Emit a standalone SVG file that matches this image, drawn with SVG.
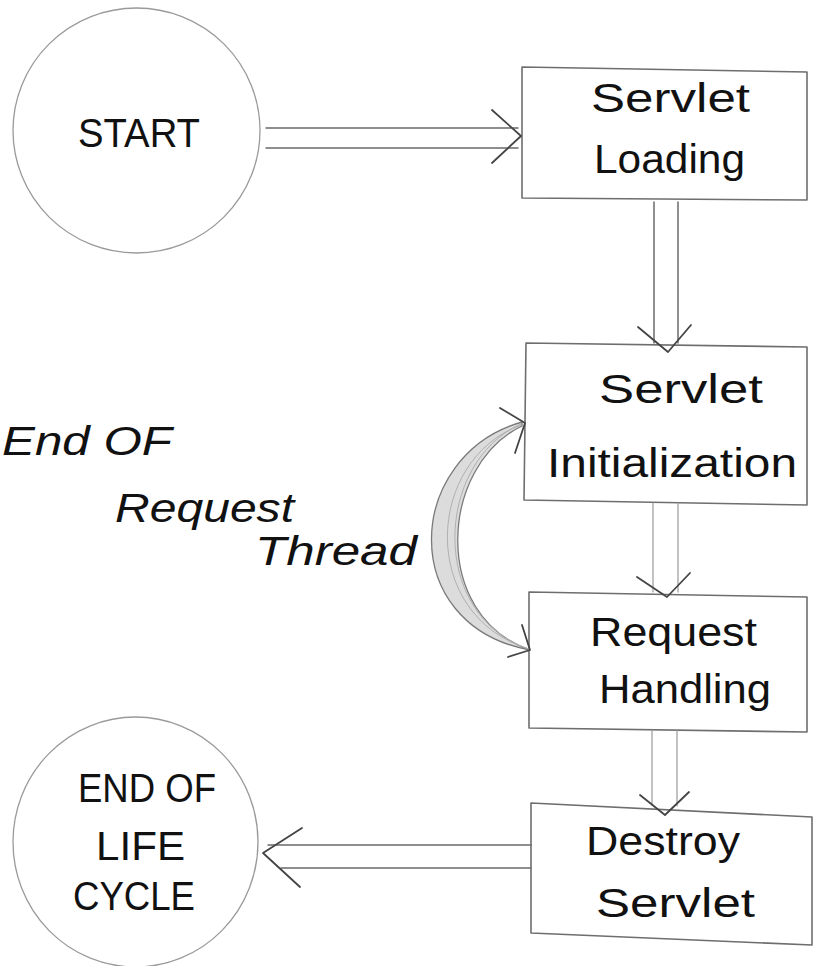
<svg xmlns="http://www.w3.org/2000/svg" width="816" height="966" viewBox="0 0 816 966">
  <defs>
    <style>
      .bg { fill: #ffffff; }
      .circle { fill: none; stroke: #9a9a9a; stroke-width: 1.3; }
      .box { fill: none; stroke: #6e6e6e; stroke-width: 1.6; stroke-linejoin: round; }
      .line { fill: none; stroke: #6a6a6a; stroke-width: 1.5; stroke-linecap: round; }
      .faint { stroke: #999999; stroke-width: 1.2; }
      .head { fill: none; stroke: #444444; stroke-width: 1.8; stroke-linecap: round; stroke-linejoin: round; }
      .band { fill: #dcdcdc; stroke: #7a7a7a; stroke-width: 1.3; }
      .hatch { fill: none; stroke: #b0b0b0; stroke-width: 1; }
      .t { font-family: "Liberation Sans", "DejaVu Sans", sans-serif; fill: #111111; font-size: 40px; }
      .it { font-style: italic; }
    </style>
  </defs>
  <rect class="bg" x="0" y="0" width="816" height="966"/>

  <g id="start">
    <ellipse class="circle" cx="136.5" cy="130.5" rx="123.5" ry="122.5"/>
    <text class="t" x="78" y="147" textLength="122" lengthAdjust="spacingAndGlyphs">START</text>
  </g>

  <g id="servlet-loading">
    <path class="box" d="M522 67 L807 72 L807 200 L522 198 Z"/>
    <text class="t" x="591" y="112" textLength="159" lengthAdjust="spacingAndGlyphs">Servlet</text>
    <text class="t" x="594" y="173" textLength="151" lengthAdjust="spacingAndGlyphs">Loading</text>
  </g>

  <g id="servlet-initialization">
    <path class="box" d="M526 343 L807 347 L807 505 L524 500 Z"/>
    <text class="t" x="599" y="403" font-size="38" textLength="164" lengthAdjust="spacingAndGlyphs">Servlet</text>
    <text class="t" x="547" y="477" font-size="38" textLength="250" lengthAdjust="spacingAndGlyphs">Initialization</text>
  </g>

  <g id="request-handling">
    <path class="box" d="M529 592 L807 597 L807 732 L529 728 Z"/>
    <text class="t" x="590" y="646" textLength="167" lengthAdjust="spacingAndGlyphs">Request</text>
    <text class="t" x="599" y="703" textLength="172" lengthAdjust="spacingAndGlyphs">Handling</text>
  </g>

  <g id="destroy-servlet">
    <path class="box" d="M531 803 L812 817 L812 945 L531 933 Z"/>
    <text class="t" x="586" y="855" textLength="154" lengthAdjust="spacingAndGlyphs">Destroy</text>
    <text class="t" x="596" y="917" textLength="159" lengthAdjust="spacingAndGlyphs">Servlet</text>
  </g>

  <g id="end-of-life-cycle">
    <ellipse class="circle" cx="135.5" cy="842" rx="122.5" ry="125"/>
    <text class="t" x="78" y="802" font-size="37" textLength="138" lengthAdjust="spacingAndGlyphs">END OF</text>
    <text class="t" x="96" y="860" font-size="37" textLength="89" lengthAdjust="spacingAndGlyphs">LIFE</text>
    <text class="t" x="73" y="910" font-size="37" textLength="122" lengthAdjust="spacingAndGlyphs">CYCLE</text>
  </g>

  <g id="thread-label">
    <text class="t it" x="2" y="455" textLength="170" lengthAdjust="spacingAndGlyphs">End  OF</text>
    <text class="t it" x="115" y="522" textLength="179" lengthAdjust="spacingAndGlyphs">Request</text>
    <text class="t it" x="255" y="565" textLength="162" lengthAdjust="spacingAndGlyphs">Thread</text>
  </g>

  <g id="connectors">
    <!-- START -> Servlet Loading -->
    <line class="line" x1="266" y1="128" x2="518" y2="128"/>
    <line class="line" x1="266" y1="148" x2="518" y2="148"/>
    <polyline class="head" points="492,110 521,136 492,163"/>

    <!-- Loading -> Initialization -->
    <line class="line" x1="654" y1="202" x2="654" y2="343"/>
    <line class="line" x1="678" y1="202" x2="678" y2="343"/>
    <polyline class="head" points="638,327 668,352 691,325"/>

    <!-- Initialization -> Request Handling -->
    <line class="line faint" x1="653" y1="503" x2="653" y2="592"/>
    <line class="line faint" x1="678" y1="503" x2="678" y2="592"/>
    <polyline class="head" points="637,577 667,597 690,573"/>

    <!-- Request Handling -> Destroy -->
    <line class="line faint" x1="652" y1="730" x2="652" y2="805"/>
    <line class="line faint" x1="677" y1="730" x2="677" y2="806"/>
    <polyline class="head" points="640,795 665,815 689,792"/>

    <!-- Destroy -> End of life cycle -->
    <line class="line" x1="531" y1="845" x2="268" y2="845"/>
    <line class="line" x1="531" y1="868" x2="281" y2="868"/>
    <polyline class="head" points="302,828 263,853 300,887"/>

    <!-- End of Request Thread curved double arrow -->
    <path class="band" d="M522 422 C405 455 395 625 530 650 C430 615 440 465 522 426 Z"/>
    <path class="hatch" d="M521 425 C425 460 418 615 529 649"/>
    <path class="hatch" d="M521 424 C435 462 428 615 529 649"/>
    <polyline class="head" points="500,408 525,423 515,453"/>
    <polyline class="head" points="522,625 530,650 508,657"/>
  </g>
</svg>
